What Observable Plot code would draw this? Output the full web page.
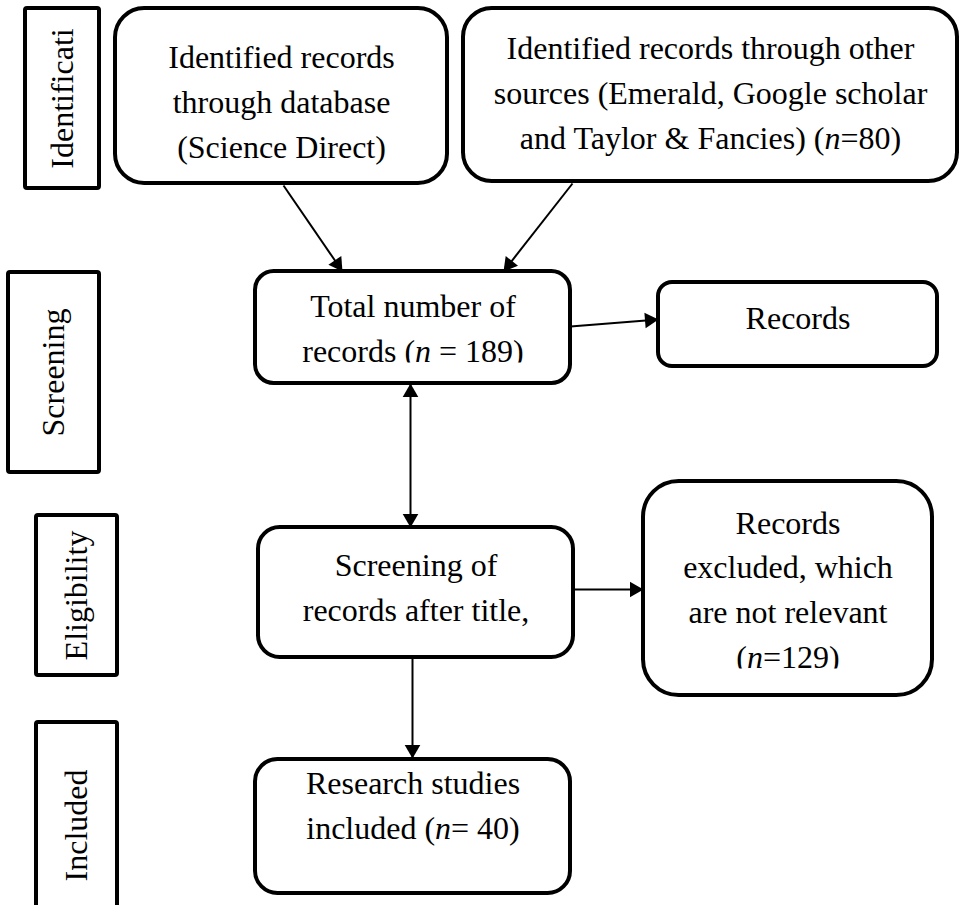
<!DOCTYPE html>
<html>
<head>
<meta charset="utf-8">
<script src="https://cdn.jsdelivr.net/npm/d3@7"></script>
<script src="https://cdn.jsdelivr.net/npm/@observablehq/plot@0.6"></script>
<style>
  html, body { margin: 0; padding: 0; background: #fff; }
  svg { display: block; }
</style>
</head>
<body>
<script>
// ---- Diagram content (in diagram units) ----
const W = 959, H = 905;

// Flow boxes
const boxLabels = [
  "Identified records\nthrough database\n(Science Direct)",
  "Identified records through other\nsources (Emerald, Google scholar\nand Taylor & Fancies) (n=80)",
  "Total number of\nrecords (n = 189)",
  "Records",
  "Screening of\nrecords after title,",
  "Records\nexcluded, which\nare not relevant\n(n=129)",
  "Research studies\nincluded (n= 40)"
];
const boxLeft    = [115, 463, 255, 658, 258, 643, 255];
const boxRight   = [447, 957, 570, 937, 573, 932, 570];
const boxTop     = [8,   8,   271, 282, 527, 481, 759];
const boxBottom  = [183, 181, 383, 366, 657, 695, 893];
const boxTextMid = [98, 89, 325, 314, 584, 586, 802];
// bottom edge of each box's text area (text below it is cut off, as in the source)
const boxTextCut = [183, 181, 362, 366, 657, 668, 893];

// Stage labels (left column)
const stageLabels = ["Identificati", "Screening", "Eligibility", "Included"];
const stageLeft   = [25, 8, 36, 36];
const stageRight  = [99, 99, 117, 117];
const stageTop    = [8, 272, 515, 722];
const stageBottom = [188, 472, 675, 928];

// Connectors: from -> to (tip), and whether both ends have heads
const arrowFromX = [283, 572, 570, 410, 573, 412];
const arrowFromY = [185, 183, 326, 383, 589, 657];
const arrowToX   = [342, 503, 658, 410, 643, 412];
const arrowToY   = [271, 271, 319, 527, 589, 758];
const arrowBoth  = [false, false, false, true, false, false];

// ---- Build tables ----
const boxes = boxLabels.map((label, i) => ({
  label, x1: boxLeft[i], x2: boxRight[i], y1: boxTop[i], y2: boxBottom[i],
  cx: (boxLeft[i] + boxRight[i]) / 2, ty: boxTextMid[i], cut: boxTextCut[i]
}));
const stages = stageLabels.map((label, i) => ({
  label, x1: stageLeft[i], x2: stageRight[i], y1: stageTop[i], y2: stageBottom[i],
  cx: (stageLeft[i] + stageRight[i]) / 2, cy: (stageTop[i] + stageBottom[i]) / 2
}));
const links = arrowFromX.map((_, i) => ({
  x1: arrowFromX[i], y1: arrowFromY[i], x2: arrowToX[i], y2: arrowToY[i], both: arrowBoth[i]
}));

// Arrowheads as rotated filled triangles
const headR = 5.8;
const headHalf = Math.sqrt((Math.PI * headR * headR) / (3 * Math.sqrt(3)));
const tipOffset = 2 * headHalf;
function head(tx, ty, fx, fy) {
  const dx = tx - fx, dy = ty - fy, len = Math.hypot(dx, dy);
  return {
    x: tx - dx / len * tipOffset,
    y: ty - dy / len * tipOffset,
    rot: Math.atan2(dx, -dy) * 180 / Math.PI
  };
}
const heads = [];
links.forEach(l => {
  heads.push(head(l.x2, l.y2, l.x1, l.y1));
  if (l.both) heads.push(head(l.x1, l.y1, l.x2, l.y2));
});

const font = "Liberation Serif, Times New Roman, serif";

const marks = [];
// Flow boxes: rounded corners proportional to the shorter side
boxes.forEach(b => {
  const r = Math.min(b.x2 - b.x1, b.y2 - b.y1) / 6;
  marks.push(Plot.rect([b], {x1: "x1", x2: "x2", y1: "y1", y2: "y2",
    fill: "white", stroke: "black", strokeWidth: 4, rx: r, ry: r}));
});
// Stage boxes
marks.push(Plot.rect(stages, {x1: "x1", x2: "x2", y1: "y1", y2: "y2",
  fill: "white", stroke: "black", strokeWidth: 4, rx: 2, ry: 2}));
// Connectors
marks.push(Plot.link(links, {x1: "x1", y1: "y1", x2: "x2", y2: "y2",
  stroke: "black", strokeWidth: 2}));
marks.push(Plot.dot(heads, {x: "x", y: "y", rotate: "rot", symbol: "triangle",
  r: headR, fill: "black", stroke: "none"}));
// Box texts
marks.push(Plot.text(boxes, {x: "cx", y: "ty", text: "label", fontSize: 32,
  fontFamily: font, lineHeight: 1.4, textAnchor: "middle", lineAnchor: "middle",
  fill: "black", className: "box-text"}));
// Stage texts
marks.push(Plot.text(stages, {x: "cx", y: "cy", text: "label", fontSize: 32,
  fontFamily: font, rotate: -90, textAnchor: "middle", fill: "black"}));

const chart = Plot.plot({
  width: W, height: H,
  marginTop: 0, marginRight: 0, marginBottom: 0, marginLeft: 0,
  x: {domain: [0, W], range: [0, W], axis: null},
  y: {domain: [0, H], range: [0, H], axis: null},
  style: {background: "white", color: "black", fontFamily: font, overflow: "hidden"},
  marks
});

// Italicise the statistical "n" in counts
chart.querySelectorAll("text, tspan").forEach(node => {
  if (node.children.length) return;
  const s = node.textContent;
  const m = s.match(/^(.*\()n(.*)$/);
  if (!m) return;
  node.textContent = "";
  node.appendChild(document.createTextNode(m[1]));
  const it = document.createElementNS("http://www.w3.org/2000/svg", "tspan");
  it.setAttribute("font-style", "italic");
  it.textContent = "n";
  node.appendChild(it);
  node.appendChild(document.createTextNode(m[2]));
});

// Clip each box's text to the box's text area, via the chart's own scales
const sx = chart.scale("x"), sy = chart.scale("y");
const ns = "http://www.w3.org/2000/svg";
const defs = document.createElementNS(ns, "defs");
chart.insertBefore(defs, chart.firstChild);
// The first text mark group holds the box labels (one <text> per box, in order)
const textGroups = chart.querySelectorAll('g[aria-label="text"]');
const boxTextGroup = chart.querySelector("g.box-text") || textGroups[0];
if (boxTextGroup) {
  const texts = boxTextGroup.querySelectorAll("text");
  texts.forEach((t, i) => {
    const b = boxes[i];
    if (!b) return;
    const cp = document.createElementNS(ns, "clipPath");
    cp.setAttribute("id", "box-clip-" + i);
    cp.setAttribute("clipPathUnits", "userSpaceOnUse");
    const r = document.createElementNS(ns, "rect");
    const x0 = sx.apply(b.x1), x1 = sx.apply(b.x2);
    const y0 = sy.apply(b.y1), y1 = sy.apply(b.cut);
    r.setAttribute("x", x0); r.setAttribute("width", x1 - x0);
    r.setAttribute("y", y0); r.setAttribute("height", y1 - y0);
    cp.appendChild(r);
    defs.appendChild(cp);
    // wrap in a group so the clip is in chart coordinates (text has its own transform)
    const g = document.createElementNS(ns, "g");
    g.setAttribute("clip-path", "url(#box-clip-" + i + ")");
    t.parentNode.insertBefore(g, t);
    g.appendChild(t);
  });
}

document.body.appendChild(chart);
</script>
</body>
</html>
